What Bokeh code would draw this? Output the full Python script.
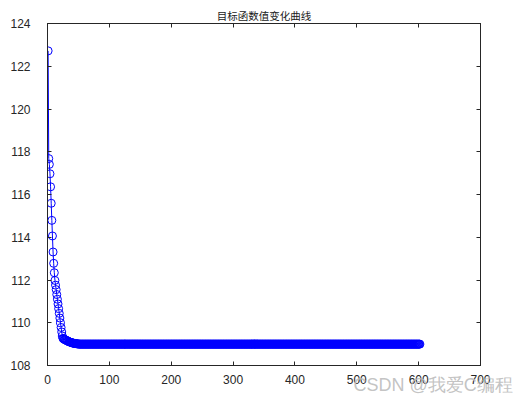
from bokeh.plotting import figure
from bokeh.models import LinearAxis, Range1d, FixedTicker, Title, ColumnDataSource
from bokeh.embed import file_html
from bokeh.resources import INLINE

# ---- data ----
title_text = "目标函数值变化曲线"
early_values = [
    122.72, 117.68, 117.41, 116.97, 116.36, 115.59, 114.79, 114.06, 113.31, 112.78,
    112.34, 111.98, 111.76, 111.55, 111.32, 111.10, 110.88, 110.66, 110.44, 110.22,
    110.00, 109.78, 109.57, 109.38, 109.27, 109.25, 109.23, 109.21, 109.20, 109.18,
    109.17, 109.15, 109.14, 109.12, 109.11, 109.10, 109.09, 109.08, 109.07, 109.06,
    109.05, 109.04, 109.04, 109.03, 109.03, 109.02, 109.02, 109.01, 109.01, 109.01,
]
final_value = 109.00
n_iterations = 602
x_ticks = [0, 100, 200, 300, 400, 500, 600, 700]
y_ticks = [108, 110, 112, 114, 116, 118, 120, 122, 124]
watermark = "CSDN @我爱C编程"

values = early_values + [final_value] * (n_iterations - len(early_values))
iters = list(range(1, n_iterations + 1))
src = ColumnDataSource(dict(x=iters, y=values))

AX = "#262626"
p = figure(width=529, height=396, output_backend="svg", toolbar_location=None,
           x_range=Range1d(0, 700), y_range=Range1d(108, 124),
           min_border_left=47, min_border_right=49, min_border_top=23, min_border_bottom=31,
           background_fill_color="white", border_fill_color="white")
p.title.text = title_text
p.title.align = "center"
p.title.text_font = "Noto Sans CJK SC"
p.title.text_font_size = "10.5px"
p.title.text_font_style = "normal"
p.title.text_color = "#1a1a1a"
p.title.offset = 0
p.title.standoff = 2

p.grid.visible = False
p.outline_line_color = AX
p.outline_line_width = 1

p.line("x", "y", source=src, line_color="#0000ff", line_width=1)
p.scatter("x", "y", source=src, marker="circle", size=8, fill_color=None,
          line_color="#0000ff", line_width=1)

def style(ax, ticks, labels=True, standoff=5):
    ax.ticker = FixedTicker(ticks=ticks)
    ax.major_tick_in = 4
    ax.major_tick_out = 0
    ax.minor_tick_line_color = None
    ax.axis_line_color = AX
    ax.major_tick_line_color = AX
    ax.major_label_text_font = "Liberation Sans"
    ax.major_label_text_color = AX
    ax.major_label_standoff = standoff
    ax.major_label_text_font_size = "12px"
    if not labels:
        ax.major_label_text_color = None
        ax.major_label_text_font_size = "1px"
        ax.major_label_standoff = 0

style(p.xaxis[0], x_ticks, standoff=9)
style(p.yaxis[0], y_ticks, standoff=17)

top = LinearAxis()
style(top, x_ticks, labels=False)
p.add_layout(top, "above")
right = LinearAxis()
style(right, y_ticks, labels=False)
p.add_layout(right, "right")

wm = Title(text=watermark, align="left", offset=306, vertical_align="bottom",
           standoff=-28, padding=dict(left=0, right=0, top=0, bottom=14),
           text_font="Liberation Sans", text_font_size="18px",
           text_font_style="normal", text_color="#bcbcbc", text_alpha=0.9)
p.add_layout(wm, "below")

open("out.html", "w").write(file_html(p, INLINE))
